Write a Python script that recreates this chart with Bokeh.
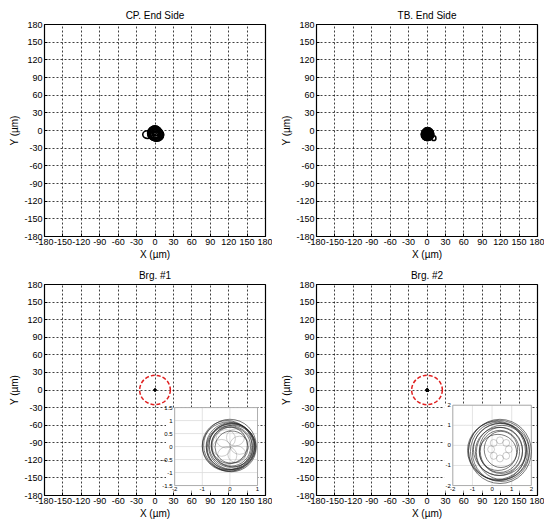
from bokeh.plotting import figure
from bokeh.layouts import column, row
from bokeh.models import FixedTicker, Range1d
from bokeh.core.properties import value
from bokeh.embed import file_html
from bokeh.resources import INLINE

FONT = "Liberation Sans"

# Axis ticks (µm)
ticks = [-180, -150, -120, -90, -60, -30, 0, 30, 60, 90, 120, 150, 180]
tick_labels = ["-180", "-150", "-120", "-90", "-60", "-30", "0", "30", "60", "90", "120", "150", "180"]

# CP. end side orbit loops: centre x, centre y, width, height (µm)
cp_cx = [0, 1, -1, 2, 0, 3, -2, 1, -12, 0, 2, -1, 1, 0]
cp_cy = [-5, -6, -4, -7, -3, -8, -5, -6, -7, -6, -4, -8, -5, -5]
cp_w = [24, 22, 22, 24, 20, 22, 18, 16, 16, 14, 12, 16, 8, 4]
cp_h = [24, 22, 22, 22, 22, 20, 20, 16, 13, 14, 16, 12, 8, 4]

# TB. end side orbit loops (µm)
tb_cx = [1, 0, 2, 1, 0, 2, 11]
tb_cy = [-6, -7, -7, -5, -8, -6, -13]
tb_w = [20, 19, 18, 17, 16, 14, 7]
tb_h = [22, 20, 20, 19, 18, 16, 8]
tb_core_x = [1]
tb_core_y = [-7]
tb_core_w = [16]
tb_core_h = [18]

# Allowable clearance circle (µm)
limit_x = [0]
limit_y = [0]
limit_d = [50]

# Bearing #1 orbit loops (µm)
brg1_cx = [0.00, -0.05, 0.05, 0.02, 0.08, -0.10, 0.05, 0.00, 0.10, 0.05, -0.02, 0.06]
brg1_cy = [0.05, 0.00, -0.05, 0.02, 0.00, 0.05, 0.05, -0.05, 0.02, 0.00, 0.05, -0.02]
brg1_w = [1.90, 1.90, 1.80, 1.76, 1.70, 1.80, 1.60, 1.64, 1.56, 1.40, 1.30, 1.20]
brg1_h = [2.00, 1.90, 1.84, 1.80, 1.76, 1.90, 1.70, 1.70, 1.60, 1.50, 1.40, 1.24]
brg1_pet_x = [0.35, 0.20, -0.15, -0.30, -0.10, 0.25]
brg1_pet_y = [0.05, 0.35, 0.30, -0.05, -0.35, -0.30]
brg1_pet_d = [0.70, 0.65, 0.70, 0.65, 0.70, 0.65]
brg1_xticks = [-2, -1, 0, 1]
brg1_xlabels = ["-2", "-1", "0", "1"]
brg1_yticks = [-1.5, -1, -0.5, 0, 0.5, 1, 1.5]
brg1_ylabels = ["-1.5", "-1", "-0.5", "0", "0.5", "1", "1.5"]

# Bearing #2 orbit loops (µm)
brg2_cx = [0.40, 0.35, 0.45, 0.30, 0.40, 0.50, 0.35, 0.45, 0.40, 0.30, 0.45, 0.25]
brg2_cy = [-0.30, -0.25, -0.35, -0.30, -0.20, -0.35, -0.30, -0.25, -0.30, -0.35, -0.20, -0.25]
brg2_w = [3.20, 3.10, 2.90, 2.80, 2.70, 2.60, 2.40, 2.20, 2.00, 1.90, 1.70, 3.00]
brg2_h = [3.20, 3.00, 2.90, 2.90, 2.60, 2.70, 2.40, 2.30, 2.10, 1.80, 1.80, 2.90]
brg2_pet_x = [0.85, 0.72, 0.40, 0.08, -0.05, 0.08, 0.40, 0.72]
brg2_pet_y = [-0.20, 0.12, 0.25, 0.12, -0.20, -0.52, -0.65, -0.52]
brg2_pet_d = [0.35, 0.35, 0.35, 0.35, 0.35, 0.35, 0.35, 0.35]
brg2_xticks = [-2, -1, 0, 1, 2]
brg2_xlabels = ["-2", "-1", "0", "1", "2"]
brg2_yticks = [-2, -1, 0, 1, 2]
brg2_ylabels = ["-2", "-1", "0", "1", "2"]


def make_panel(title, top, bottom):
    p = figure(width=272, height=262, x_range=Range1d(-180, 180), y_range=Range1d(-180, 180),
               output_backend="svg", toolbar_location=None, title=title,
               min_border_left=44, min_border_right=7, min_border_top=top, min_border_bottom=bottom)
    p.title.align = "center"
    p.title.text_font = FONT
    p.title.text_font_size = "10px"
    p.title.text_font_style = "normal"
    p.title.text_color = "black"
    p.title.standoff = 7
    labels = dict(zip(ticks, tick_labels))
    for ax in (p.xaxis[0], p.yaxis[0]):
        ax.ticker = FixedTicker(ticks=ticks)
        ax.major_label_overrides = labels
        ax.major_label_text_font = FONT
        ax.major_label_text_font_size = "9px"
        ax.major_label_text_color = "black"
        ax.axis_label_text_font = FONT
        ax.axis_label_text_font_size = "10px"
        ax.axis_label_text_font_style = "normal"
        ax.axis_label_text_color = "black"
        ax.major_tick_in = 3
        ax.major_tick_out = 0
        ax.minor_tick_line_color = None
        ax.axis_line_color = "black"
        ax.major_tick_line_color = "black"
        ax.major_label_standoff = 2
        ax.axis_label_standoff = 1
    p.xaxis.axis_label = "X (µm)"
    p.yaxis.axis_label = "Y (µm)"
    p.yaxis.major_label_orientation = "horizontal"
    p.grid.grid_line_color = "black"
    p.grid.grid_line_alpha = 0.75
    p.grid.grid_line_dash = "2 2"
    p.grid.grid_line_width = 1
    p.outline_line_color = "black"
    p.outline_line_alpha = 1
    p.outline_line_width = 1.2
    p.background_fill_color = "white"
    p.border_fill_color = "white"
    return p


def add_inset(p, box, xr, yr, xt, xl, yt, yl, cx, cy, w, h, px, py, pd):
    left, right, bottom, top = box
    sx = (xr[1] - xr[0]) / (right - left)
    sy = (yr[1] - yr[0]) / (top - bottom)
    p.extra_x_ranges = {"ix": Range1d(xr[0] - (left + 180) * sx, xr[1] + (180 - right) * sx)}
    p.extra_y_ranges = {"iy": Range1d(yr[0] - (bottom + 180) * sy, yr[1] + (180 - top) * sy)}
    # white panel behind the inset and its labels
    p.quad(left=[left - 14], right=[right], bottom=[bottom - 9], top=[top],
           fill_color="white", line_color=None)
    kw = dict(x_range_name="ix", y_range_name="iy")
    p.segment(x0=xt, y0=[yr[0]] * len(xt), x1=xt, y1=[yr[1]] * len(xt),
              line_color="#dcdcdc", line_width=0.8, **kw)
    p.segment(x0=[xr[0]] * len(yt), y0=yt, x1=[xr[1]] * len(yt), y1=yt,
              line_color="#dcdcdc", line_width=0.8, **kw)
    p.quad(left=[xr[0]], right=[xr[1]], bottom=[yr[0]], top=[yr[1]],
           fill_color=None, line_color="#a0a0a0", line_width=0.8, **kw)
    p.ellipse(x=px, y=py, width=pd, height=pd, fill_color=None,
              line_color="#777777", line_alpha=0.6, line_width=0.6, **kw)
    p.ellipse(x=cx, y=cy, width=w, height=h, fill_color=None,
              line_color="#222222", line_alpha=0.75, line_width=0.8, **kw)
    p.text(x=xt, y=[yr[0]] * len(xt), text=xl, text_font=value(FONT), text_font_size="6px",
           text_align="center", text_baseline="top", y_offset=1, text_color="black", **kw)
    p.text(x=[xr[0]] * len(yt), y=yt, text=yl, text_font=value(FONT), text_font_size="6px",
           text_align="right", text_baseline="middle", x_offset=-2, text_color="black", **kw)


# CP. End Side
p1 = make_panel("CP. End Side", 24, 23)
p1.ellipse(x=cp_cx, y=cp_cy, width=cp_w, height=cp_h, fill_color=None,
           line_color="black", line_width=1.6)

# TB. End Side
p2 = make_panel("TB. End Side", 24, 23)
p2.ellipse(x=tb_core_x, y=tb_core_y, width=tb_core_w, height=tb_core_h,
           fill_color="black", line_color="black")
p2.ellipse(x=tb_cx, y=tb_cy, width=tb_w, height=tb_h, fill_color=None,
           line_color="black", line_width=1.6)

# Brg. #1
p3 = make_panel("Brg. #1", 22, 29)
p3.ellipse(x=limit_x, y=limit_y, width=limit_d, height=limit_d, fill_color=None,
           line_color="#e02020", line_width=1.5, line_dash="4 2")
p3.ellipse(x=brg1_cx, y=brg1_cy, width=brg1_w, height=brg1_h, fill_color=None,
           line_color="black", line_width=1.5)
add_inset(p3, (32, 167, -163, -30), (-2, 1), (-1.5, 1.5),
          brg1_xticks, brg1_xlabels, brg1_yticks, brg1_ylabels,
          brg1_cx, brg1_cy, brg1_w, brg1_h, brg1_pet_x, brg1_pet_y, brg1_pet_d)

# Brg. #2
p4 = make_panel("Brg. #2", 22, 29)
p4.ellipse(x=limit_x, y=limit_y, width=limit_d, height=limit_d, fill_color=None,
           line_color="#e02020", line_width=1.5, line_dash="4 2")
p4.ellipse(x=brg2_cx, y=brg2_cy, width=brg2_w, height=brg2_h, fill_color=None,
           line_color="black", line_width=1.5)
add_inset(p4, (42, 170, -163, -26), (-2, 2), (-2, 2),
          brg2_xticks, brg2_xlabels, brg2_yticks, brg2_ylabels,
          brg2_cx, brg2_cy, brg2_w, brg2_h, brg2_pet_x, brg2_pet_y, brg2_pet_d)

layout = column(row(p1, p2, spacing=0), row(p3, p4, spacing=0), spacing=0)
open("out.html", "w").write(file_html(layout, INLINE))
